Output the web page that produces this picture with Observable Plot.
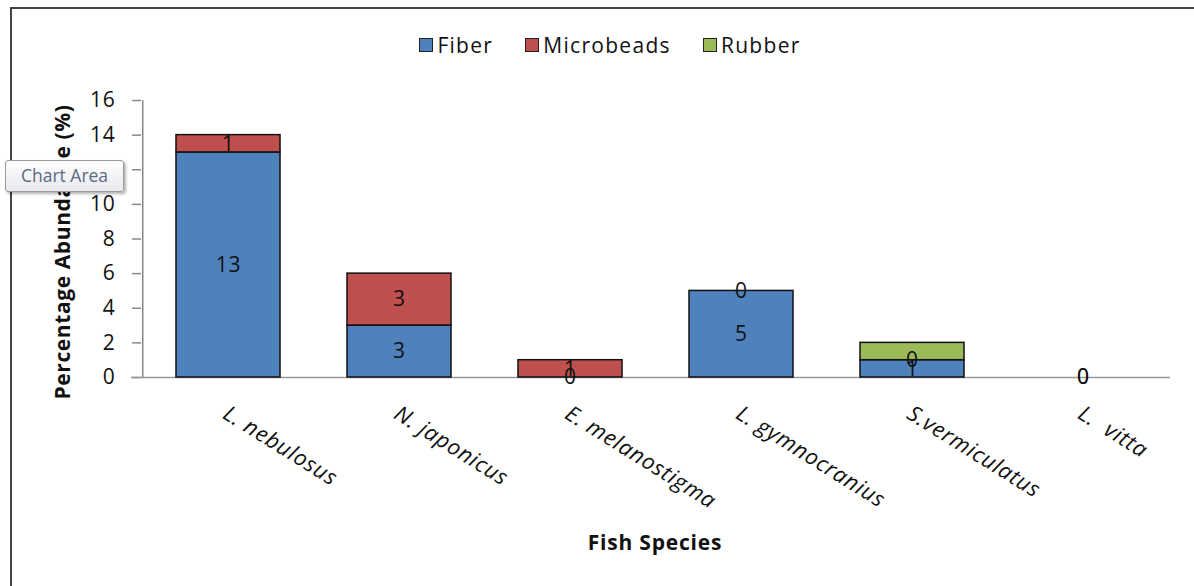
<!DOCTYPE html>
<html><head><meta charset="utf-8">
<script src="https://cdn.jsdelivr.net/npm/d3@7"></script>
<script src="https://cdn.jsdelivr.net/npm/@observablehq/plot@0.6"></script>
<style>
body{margin:0;background:#fff;}
#wrap{position:relative;width:1194px;height:586px;overflow:hidden;font-family:"Open Sans",sans-serif;background:#fff;}
#frame{position:absolute;left:10px;top:7px;width:1300px;height:700px;border-left:2px solid #444;border-top:2px solid #444;box-sizing:border-box;}
#chart{position:absolute;left:0;top:0;}
#legend{position:absolute;top:31px;left:0;width:1220px;display:flex;justify-content:center;gap:32px;font-size:21px;letter-spacing:1.3px;color:#111;}
#legend .it{display:flex;align-items:center;gap:4px;}
#legend .sw{width:12px;height:12px;border:1.5px solid #222;}
#ytitle{position:absolute;left:62px;top:252px;transform:translate(-50%,-50%) rotate(-90deg);font-weight:bold;font-size:21px;letter-spacing:0.6px;white-space:nowrap;color:#111;}
#xtitle{position:absolute;left:655px;top:542px;transform:translate(-50%,-50%);font-weight:bold;font-size:21px;letter-spacing:0.8px;color:#111;}
#tip{position:absolute;left:5px;top:160px;width:117px;height:30px;border:1px solid #9a9a9a;border-radius:3px;background:linear-gradient(#fff,#e8e8ee);box-shadow:2px 2px 3px rgba(0,0,0,0.3);font-size:17.5px;color:#5b6a82;line-height:29px;text-align:center;}
</style></head>
<body>
<div id="wrap">
  <div id="frame"></div>
  <div id="chart"></div>
  <div id="legend"></div>
  <div id="ytitle">Percentage Abundance (%)</div>
  <div id="xtitle">Fish Species</div>
  <div id="tip">Chart Area</div>
</div>
<script>
const species = ["L. nebulosus", "N. japonicus", "E. melanostigma", "L. gymnocranius", "S.vermiculatus", "L.  vitta"];
const seriesNames = ["Fiber", "Microbeads", "Rubber"];
const seriesColors = ["#4F81BD", "#C0504D", "#9BBB59"];
const fiber = [13, 3, 0, 5, 1, 0];
const microbeads = [1, 3, 1, 0, 0, 0];
const rubber = [0, 0, 0, 0, 1, 0];
const labelledSeries = ["Fiber", "Microbeads"];
const yTicks = [0, 2, 4, 6, 8, 10, 12, 14, 16];

const values = [fiber, microbeads, rubber];
const rows = [];
species.forEach((sp, i) => {
  let acc = 0;
  seriesNames.forEach((s, j) => {
    const v = values[j][i];
    rows.push({species: sp, series: s, value: v, y1: acc, y2: acc + v});
    acc += v;
  });
});

const plot = Plot.plot({
  width: 1194,
  height: 586,
  marginTop: 100,
  marginBottom: 209,
  marginLeft: 141,
  marginRight: 24,
  style: {fontFamily: "'Open Sans', sans-serif", fontSize: "21px", color: "#111", background: "transparent", letterSpacing: "0.8px"},
  x: {domain: species, paddingInner: 0.39, paddingOuter: 0.195, axis: null},
  y: {domain: [0, 16], axis: null},
  color: {domain: seriesNames, range: seriesColors},
  marks: [
    Plot.axisY({ticks: yTicks, tickSize: 9, tickPadding: 17, stroke: "#888", strokeWidth: 1.5, fontSize: 21, label: null}),
    Plot.ruleX([0], {x: () => species[0], y1: 0, y2: 16, dx: -85.75, stroke: "#888", strokeWidth: 1.5}),
    Plot.ruleY([0], {stroke: "#999", strokeWidth: 1.5, insetLeft: -10}),
    Plot.rectY(rows.filter(d => d.value > 0), {x: "species", y1: "y1", y2: "y2", fill: d => d.series, stroke: "#111", strokeWidth: 1.5}),
    Plot.text(rows.filter(d => labelledSeries.includes(d.series)), {x: "species", y: d => (d.y1 + d.y2) / 2, text: d => String(d.value), fill: "#111", fontSize: 21}),
    Plot.text(species, {x: d => d, text: d => d, frameAnchor: "bottom", dy: 40, dx: -7, rotate: 32, textAnchor: "start", fontStyle: "italic", fontSize: 22, fill: "#111", style: {letterSpacing: "1.3px"}})
  ]
});
document.getElementById("chart").appendChild(plot);

const leg = d3.select("#legend");
seriesNames.forEach((s, i) => {
  const it = leg.append("div").attr("class", "it");
  it.append("div").attr("class", "sw").style("background", seriesColors[i]);
  it.append("span").text(s);
});
</script>
</body></html>
